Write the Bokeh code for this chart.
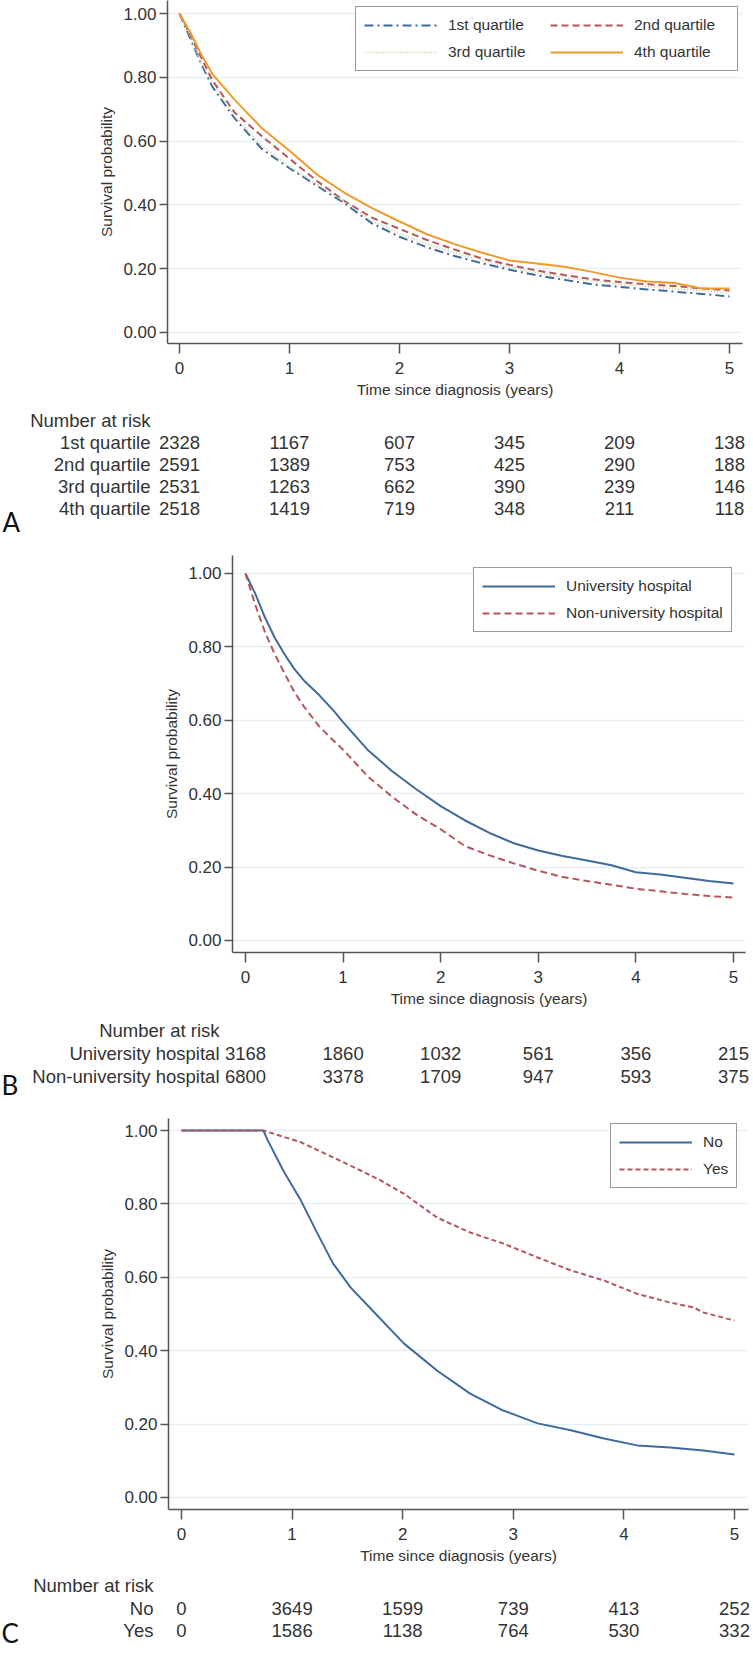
from bokeh.plotting import figure
from bokeh.models import Range1d, FixedTicker, NumeralTickFormatter
from bokeh.layouts import column
from bokeh.core.properties import value
from bokeh.embed import file_html
from bokeh.resources import INLINE

# ---------------- data ----------------
years = [0, 1, 2, 3, 4, 5]
y_ticks = [0.0, 0.2, 0.4, 0.6, 0.8, 1.0]

# Panel A: survival by quartile
a_time = [0, 0.1, 0.2, 0.3, 0.5, 0.75, 1.0, 1.25, 1.5, 1.75, 2.0, 2.25, 2.5, 2.75,
          3.0, 3.25, 3.5, 3.75, 4.0, 4.25, 4.5, 4.75, 5.0]
a_q1 = [1.0, 0.92, 0.84, 0.77, 0.672, 0.575, 0.515, 0.46, 0.405, 0.342, 0.300, 0.267,
        0.240, 0.217, 0.197, 0.179, 0.165, 0.151, 0.143, 0.135, 0.128, 0.121, 0.113]
a_q2 = [1.0, 0.93, 0.86, 0.79, 0.690, 0.615, 0.545, 0.475, 0.412, 0.360, 0.325, 0.290,
        0.260, 0.232, 0.212, 0.194, 0.180, 0.167, 0.158, 0.151, 0.146, 0.138, 0.132]
a_q3 = [1.0, 0.925, 0.845, 0.78, 0.680, 0.585, 0.520, 0.465, 0.410, 0.350, 0.310, 0.277,
        0.250, 0.226, 0.205, 0.188, 0.173, 0.160, 0.152, 0.145, 0.138, 0.130, 0.125]
a_q4 = [1.0, 0.94, 0.87, 0.81, 0.730, 0.640, 0.570, 0.495, 0.438, 0.390, 0.348, 0.308,
        0.277, 0.250, 0.226, 0.216, 0.206, 0.190, 0.172, 0.160, 0.155, 0.138, 0.138]
a_labels = ["1st quartile", "2nd quartile", "3rd quartile", "4th quartile"]
a_risk = [[2328, 1167, 607, 345, 209, 138],
          [2591, 1389, 753, 425, 290, 188],
          [2531, 1263, 662, 390, 239, 146],
          [2518, 1419, 719, 348, 211, 118]]

# Panel B: hospital type
b_time = [0, 0.1, 0.2, 0.3, 0.4, 0.5, 0.6, 0.75, 0.9, 1.0, 1.25, 1.5, 1.75, 2.0, 2.25,
          2.5, 2.75, 3.0, 3.25, 3.5, 3.75, 4.0, 4.25, 4.5, 4.75, 5.0]
b_univ = [1.0, 0.945, 0.88, 0.825, 0.78, 0.74, 0.708, 0.670, 0.627, 0.595, 0.52, 0.462,
          0.412, 0.366, 0.327, 0.293, 0.265, 0.245, 0.230, 0.218, 0.205, 0.186, 0.180,
          0.171, 0.162, 0.155]
b_nonuniv = [1.0, 0.915, 0.84, 0.78, 0.728, 0.677, 0.637, 0.585, 0.545, 0.52, 0.448, 0.392,
             0.343, 0.303, 0.257, 0.232, 0.210, 0.190, 0.173, 0.162, 0.152, 0.141, 0.134,
             0.127, 0.121, 0.117]
b_labels = ["University hospital", "Non-university hospital"]
b_risk = [[3168, 1860, 1032, 561, 356, 215],
          [6800, 3378, 1709, 947, 593, 375]]

# Panel C: No / Yes
c_no_time = [0, 0.74, 0.78, 0.92, 1.08, 1.23, 1.37, 1.53, 1.71, 2.01, 2.31, 2.61, 2.91,
             3.22, 3.52, 3.82, 4.12, 4.42, 4.72, 5.0]
c_no = [1.0, 1.0, 0.973, 0.891, 0.809, 0.719, 0.638, 0.572, 0.515, 0.420, 0.346, 0.283,
        0.237, 0.202, 0.183, 0.161, 0.142, 0.136, 0.128, 0.117]
c_yes_time = [0, 0.74, 1.08, 1.37, 1.62, 1.80, 2.01, 2.31, 2.61, 2.91, 3.22, 3.52, 3.82,
              4.12, 4.42, 4.63, 4.72, 5.0]
c_yes = [1.0, 1.0, 0.968, 0.927, 0.891, 0.864, 0.828, 0.763, 0.722, 0.692, 0.654, 0.619,
         0.591, 0.555, 0.531, 0.518, 0.504, 0.482]
c_labels = ["No", "Yes"]
c_risk = [[0, 3649, 1599, 739, 413, 252],
          [0, 1586, 1138, 764, 530, 332]]

# ---------------- style ----------------
FONT = "Liberation Sans"
TXT = "#333333"
AXIS = "#555555"
GRID = "#E6F0F4"
BLUE = "#3E6A9C"
RED = "#B5565C"
ORANGE = "#F09A2A"
GREEN = "#C8D2A6"
W = 753
PAGE_X0 = 0  # the page is drawn from its top-left corner


def km_plot(height, xr, yr, left, right, top, bottom):
    p = figure(width=W, height=height, x_range=Range1d(*xr), y_range=Range1d(*yr),
               toolbar_location=None, output_backend="svg", title=None,
               min_border_left=left, min_border_right=right,
               min_border_top=top, min_border_bottom=bottom)
    p.frame_align = False
    p.outline_line_color = None
    p.background_fill_color = "white"
    p.border_fill_color = "white"
    p.xgrid.visible = False
    p.ygrid.ticker = FixedTicker(ticks=y_ticks)
    p.ygrid.grid_line_color = GRID
    p.ygrid.grid_line_width = 1.5
    p.xaxis.ticker = FixedTicker(ticks=years)
    p.yaxis.ticker = FixedTicker(ticks=y_ticks)
    p.yaxis.formatter = NumeralTickFormatter(format="0.00")
    p.xaxis.axis_label = "Time since diagnosis (years)"
    p.yaxis.axis_label = "Survival probability"
    for ax in [p.xaxis[0], p.yaxis[0]]:
        ax.axis_line_color = AXIS
        ax.axis_line_width = 1.5
        ax.major_tick_line_color = AXIS
        ax.major_tick_line_width = 1.5
        ax.major_tick_in = 0
        ax.minor_tick_line_color = None
        ax.major_label_text_font = FONT
        ax.major_label_text_font_size = "17px"
        ax.major_label_text_color = TXT
        ax.axis_label_text_font = FONT
        ax.axis_label_text_font_size = "15.5px"
        ax.axis_label_text_font_style = "normal"
        ax.axis_label_text_color = TXT
    p.xaxis.major_tick_out = 10
    p.xaxis.major_label_standoff = 8
    p.xaxis.axis_label_standoff = 4
    p.yaxis.major_tick_out = 8
    p.yaxis.major_label_standoff = 3
    p.yaxis.axis_label_standoff = 5
    return p


def style_legend(p, loc):
    lg = p.legend[0]
    lg.location = loc
    lg.margin = 0
    lg.padding = 8
    lg.spacing = 7
    lg.glyph_width = 73
    lg.glyph_height = 20
    lg.label_height = 20
    lg.label_standoff = 11
    lg.label_text_font = FONT
    lg.label_text_font_size = "15.5px"
    lg.label_text_color = TXT
    lg.border_line_color = "#333333"
    lg.border_line_width = 1.5
    lg.background_fill_alpha = 1.0
    return lg


def risk_table(height, x0_px, px_per_year, row0_px, row_step, top_px,
               rows, values, label_right_px, letter, letter_x_px, letter_mid_px):
    """Risk table drawn on a frame that covers the whole figure; the x scale
    matches the plot above so the counts sit under the year ticks."""
    x_start = (PAGE_X0 - x0_px) / px_per_year
    x_end = (PAGE_X0 + W - x0_px) / px_per_year
    y_top = (top_px - row0_px) / row_step
    y_bot = (top_px + height - row0_px) / row_step
    p = figure(width=W, height=height, x_range=Range1d(x_start, x_end),
               y_range=Range1d(y_bot, y_top),
               toolbar_location=None, output_backend="svg", title=None,
               x_axis_location=None, y_axis_location=None,
               min_border_left=0, min_border_right=0,
               min_border_top=0, min_border_bottom=0)
    p.frame_align = False
    p.outline_line_color = None
    p.grid.visible = False
    names = ["Number at risk"] + rows
    idx = list(range(len(names)))
    lab_x = (label_right_px - x0_px) / px_per_year
    p.text(x=[lab_x] * len(names), y=idx, text=names,
           text_align="right", text_baseline="middle",
           text_font=value(FONT), text_font_size=value("18.5px"), text_color=TXT)
    for i, vals in enumerate(values, start=1):
        p.text(x=years, y=[i] * len(years), text=[str(v) for v in vals],
               text_align="center", text_baseline="middle",
               text_font=value(FONT), text_font_size=value("18.5px"),
               text_color=TXT)
    p.text(x=[(letter_x_px - x0_px) / px_per_year],
           y=[(letter_mid_px - row0_px) / row_step],
           text=[letter], text_align="left", text_baseline="middle",
           text_font=value("Lato"), text_font_size=value("26px"), text_color="#111111")
    return p


# ---------------- Panel A ----------------
pA = km_plot(405, (-0.109, 5.118), (-0.0345, 1.0408), 167, 11, 0, 62)
pA.line(a_time, a_q1, line_color=BLUE, line_width=2, line_dash="9 4 2 4", legend_label=a_labels[0])
pA.line(a_time, a_q2, line_color=RED, line_width=2, line_dash="7 4", legend_label=a_labels[1])
pA.line(a_time, a_q3, line_color=GREEN, line_width=2, line_dash="1 2", legend_label=a_labels[2])
pA.line(a_time, a_q4, line_color=ORANGE, line_width=2, legend_label=a_labels[3])
lgA = style_legend(pA, (188, 272))
lgA.orientation = "horizontal"
lgA.nrows = 2
lgA.label_width = 95

tA = risk_table(140, 179, 110.0, 420, 22.0, 405, a_labels, a_risk, 150, "A", 2, 521)

# ---------------- Panel B ----------------
pB = km_plot(469, (-0.133, 5.123), (-0.0327, 1.049), 232, 8, 10, 62)
pB.line(b_time, b_univ, line_color=BLUE, line_width=2, legend_label=b_labels[0])
pB.line(b_time, b_nonuniv, line_color=RED, line_width=2, line_dash="7 4", legend_label=b_labels[1])
style_legend(pB, (241, 320))

tB = risk_table(86, 245, 97.6, 1030, 23.0, 1014, b_labels, b_risk, 219, "B", 1, 1084)

# ---------------- Panel C ----------------
pC = km_plot(471, (-0.1175, 5.127), (-0.0327, 1.0327), 168, 5, 18, 62)
pC.line(c_no_time, c_no, line_color=BLUE, line_width=2, legend_label=c_labels[0])
pC.line(c_yes_time, c_yes, line_color=RED, line_width=2, line_dash="5 3", legend_label=c_labels[1])
style_legend(pC, (442, 321))

tC = risk_table(79, 181, 110.6, 1585, 22.5, 1571, c_labels, c_risk, 153, "C", 1, 1632)

layout = column(pA, tA, pB, tB, pC, tC, spacing=0)
open("out.html", "w").write(file_html(layout, INLINE))
